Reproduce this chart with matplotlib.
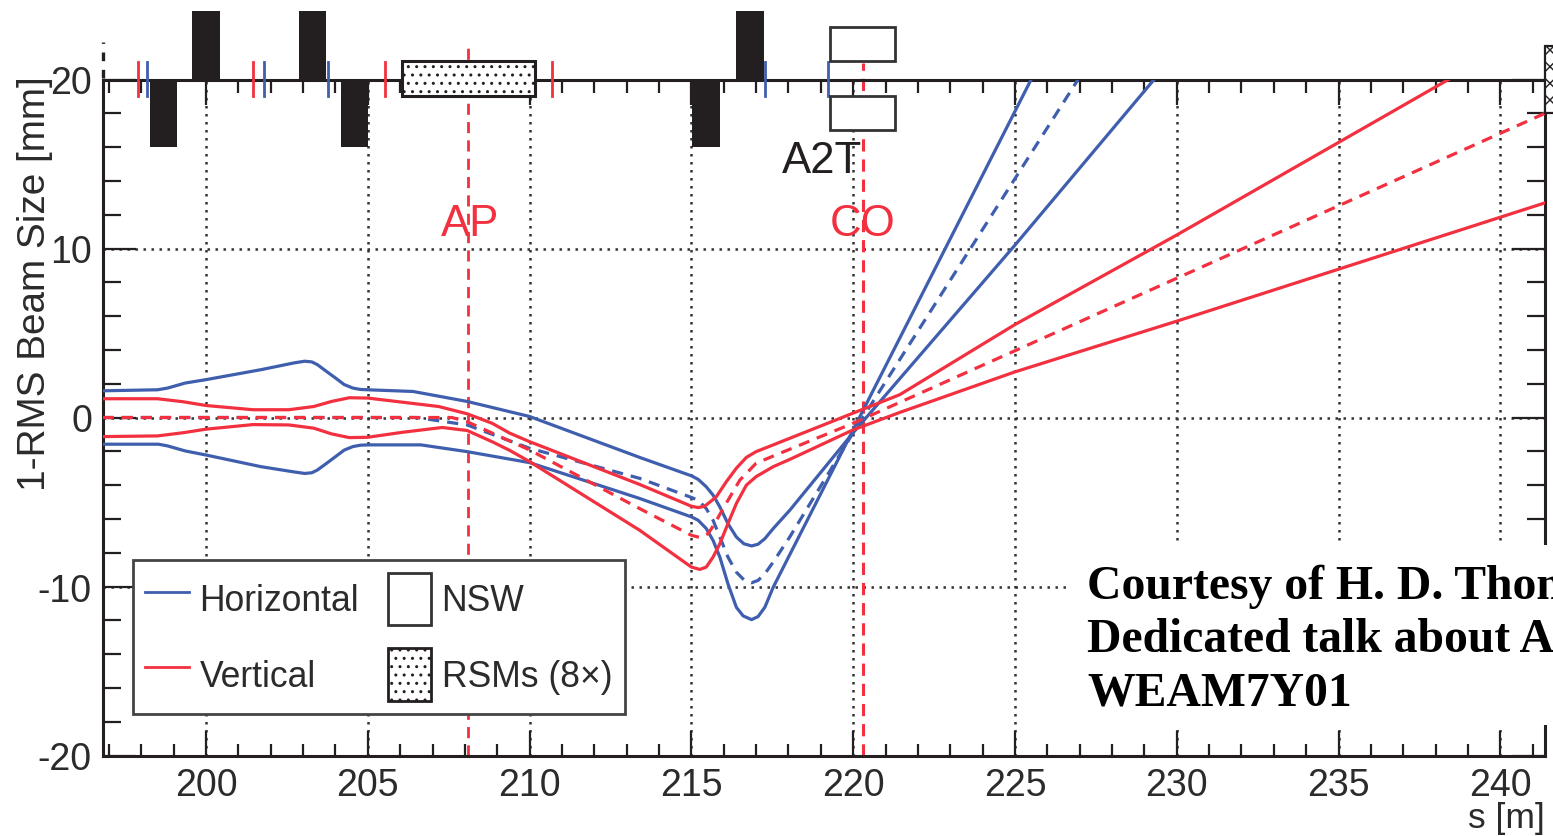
import matplotlib
matplotlib.use('Agg')
import matplotlib.pyplot as plt
from matplotlib.lines import Line2D
from matplotlib.patches import Patch, Rectangle
from matplotlib.ticker import MultipleLocator

plt.rcParams['font.family'] = ['Liberation Sans', 'DejaVu Sans']
plt.rcParams['axes.unicode_minus'] = False
plt.rcParams['hatch.linewidth'] = 1.0

BLUE = '#3f5fae'
RED = '#f2303f'
INK = '#231f20'

# beam size curves
h_up_s = [196.8, 198.5, 198.81, 199.36, 200, 201.7, 202.72, 203.05, 203.27, 203.44, 203.72, 204, 204.27, 204.54, 204.77, 205,
          206.4, 208.07, 210, 213.4, 215, 215.21, 215.46, 215.67, 215.88, 216.13, 216.39, 216.62, 216.86, 217.06, 217.27,
          217.53, 218.04, 220, 225, 229.3]
h_up_y = [1.58, 1.64, 1.74, 2.04, 2.24, 2.83, 3.23, 3.33, 3.29, 3.13, 2.73, 2.34, 1.95, 1.74, 1.66, 1.64,
          1.54, 0.95, 0.06, -2.36, -3.45, -3.66, -4.1, -4.59, -5.29, -6.28, -7.07, -7.47, -7.6, -7.5, -7.17,
          -6.57, -5.49, -0.9, 10.2, 20]
h_lo_s = [196.8, 198.53, 198.81, 199.36, 200, 201.7, 202.72, 203.05, 203.27, 203.44, 203.72, 204, 204.27, 204.54, 204.77, 205,
          206.64, 208.07, 210, 213.4, 215, 215.21, 215.46, 215.67, 215.88, 216.13, 216.39, 216.6, 216.86, 217.06, 217.27,
          217.53, 225.5]
h_lo_y = [-1.58, -1.58, -1.68, -1.98, -2.22, -2.91, -3.22, -3.31, -3.27, -3.11, -2.72, -2.32, -1.93, -1.72, -1.64, -1.62,
          -1.62, -2.02, -2.67, -4.79, -5.88, -6.08, -6.57, -7.27, -8.26, -9.84, -11.23, -11.74, -11.96, -11.78, -11.23,
          -10.04, 20]
h_mid_s = [196.8, 206.5, 208.07, 210, 213.4, 215, 215.21, 215.46, 215.67, 215.88, 216.13, 216.39, 216.62, 216.86, 217.06,
           217.27, 217.53, 218.04, 220, 226.95]
h_mid_y = [0, 0, -0.44, -1.82, -3.6, -4.73, -4.89, -5.39, -6.08, -7.07, -8.26, -9.15, -9.6, -9.78, -9.64,
           -9.25, -8.55, -7.07, -0.9, 20]

v_up_s = [196.8, 198.5, 199.3, 200, 201.45, 202.56, 203.33, 203.88, 204.43, 205, 207.19, 208.07, 208.84, 209.39, 210, 213.4,
          215, 215.21, 215.41, 215.62, 215.77, 216.08, 216.39, 216.7, 217, 217.53, 218.04, 220, 221.44, 225, 230, 238.4]
v_up_y = [1.11, 1.11, 0.93, 0.71, 0.46, 0.46, 0.65, 0.95, 1.17, 1.15, 0.65, 0.22, -0.34, -0.93, -1.43, -3.96,
          -5.25, -5.33, -5.25, -4.93, -4.69, -3.8, -3.0, -2.36, -2.02, -1.62, -1.23, 0.26, 1.35, 5.5, 10.8, 20]
v_lo_s = [196.8, 198.5, 199.3, 200, 201.45, 202.56, 203.33, 203.88, 204.43, 205, 206.09, 207.3, 208.07, 208.84, 209.39, 210,
          213.4, 215, 215.26, 215.46, 215.67, 215.88, 216.13, 216.39, 216.7, 217, 217.53, 218.04, 220, 221.44, 225, 230, 241.38]
v_lo_y = [-1.13, -1.09, -0.9, -0.69, -0.42, -0.44, -0.63, -0.97, -1.19, -1.17, -0.87, -0.59, -0.77, -1.43, -1.95, -2.61,
          -6.67, -8.85, -8.99, -8.85, -8.26, -7.47, -6.28, -5.09, -4.0, -3.5, -2.91, -2.48, -0.73, 0.3, 2.7, 5.7, 12.7]
v_mid_s = [196.8, 207.6, 208.07, 210, 213.4, 215, 215.26, 215.52, 215.72, 215.98, 216.5, 217, 217.53, 220, 225, 230, 241.38]
v_mid_y = [0, 0, -0.25, -1.92, -5.39, -6.97, -7.1, -6.87, -6.28, -5.39, -3.7, -2.71, -2.28, -0.34, 3.95, 8.24, 18]

# beamline elements (s start, s end)
quads_up = [(199.57, 200.43), (202.87, 203.71), (216.38, 217.24)]
quads_down = [(198.27, 199.1), (204.17, 205.0), (215.02, 215.88)]
rsm = (206.07, 210.17)
nsw = (219.28, 221.29)
red_marks = [197.91, 201.45, 205.52, 210.69]
blue_marks = [198.18, 201.78, 203.77, 217.27, 219.22]
ap_s = 208.1
co_s = 220.3

xticks = [200, 205, 210, 215, 220, 225, 230, 235, 240]
yticks = [-20, -10, 0, 10, 20]

fig = plt.figure(figsize=(15.53, 8.37), dpi=100)
ax = fig.add_axes([103 / 1553, 80.5 / 837, 1442 / 1553, 676 / 837])
ax.set_xlim(196.817, 241.38)
ax.set_ylim(-20, 20)

ax.set_xticks(xticks)
ax.set_yticks(yticks)
ax.xaxis.set_minor_locator(MultipleLocator(1))
ax.yaxis.set_minor_locator(MultipleLocator(2))
ax.tick_params(which='major', direction='in', top=True, right=True, length=18, width=1.6, color=INK,
               labelsize=27, labelcolor='#2b2b2b', pad=8)
ax.tick_params(axis='y', which='major', length=24)
ax.tick_params(which='minor', direction='in', top=True, right=True, length=9, width=1.6, color=INK)
ax.tick_params(axis='y', which='minor', length=13)
for sp in ax.spines.values():
    sp.set_linewidth(2.2)
    sp.set_color(INK)
ax.grid(True, which='major', color='#333333', linestyle=(0, (1, 2.2)), linewidth=1.8)
ax.set_axisbelow(True)

ax.set_ylabel('1-RMS Beam Size [mm]', fontsize=27.9, color='#2b2b2b')
ax.yaxis.set_label_coords(-0.0345, 0.70)
ax.text(0.9995, -0.0917, 's [m]', transform=ax.transAxes, ha='right', va='center', fontsize=25.5, color='#2b2b2b')

# AP and CO planes
ax.plot([ap_s, ap_s], [-20, 22.3], color=RED, ls=(0, (4, 2.6)), lw=2, clip_on=False, zorder=2)
ax.plot([co_s, co_s], [-20, 21], color=RED, ls=(0, (4, 2.6)), lw=2.2, clip_on=False, zorder=2)

ax.plot(h_up_s, h_up_y, color=BLUE, lw=2.3, zorder=3)
ax.plot(h_lo_s, h_lo_y, color=BLUE, lw=2.3, zorder=3)
ax.plot(h_mid_s, h_mid_y, color=BLUE, lw=2.3, ls=(0, (3.5, 2.5)), zorder=3)
ax.plot(v_mid_s, v_mid_y, color=RED, lw=2.3, ls=(0, (3.5, 2.5)), zorder=3)
ax.plot(v_up_s, v_up_y, color=RED, lw=2.3, zorder=3)
ax.plot(v_lo_s, v_lo_y, color=RED, lw=2.3, zorder=3)

# elements over the top axis
for a, b in quads_up:
    ax.add_patch(Rectangle((a, 20), b - a, 4.08, fc=INK, ec='none', clip_on=False, zorder=4))
for a, b in quads_down:
    ax.add_patch(Rectangle((a, 16), b - a, 4, fc=INK, ec='none', clip_on=False, zorder=4))
for s in red_marks:
    ax.plot([s, s], [19.05, 21.05], color=RED, lw=2, clip_on=False, zorder=4)
for s in blue_marks:
    ax.plot([s, s], [19.05, 21.05], color=BLUE, lw=2, clip_on=False, zorder=4)
ax.add_patch(Rectangle((rsm[0], 19.05), rsm[1] - rsm[0], 2.02, fc='white', ec=INK, lw=2.2, hatch='..',
                       clip_on=False, zorder=4))
ax.add_patch(Rectangle((nsw[0], 21.07), nsw[1] - nsw[0], 2.01, fc='white', ec='#333333', lw=2, clip_on=False, zorder=4))
ax.add_patch(Rectangle((nsw[0], 17.04), nsw[1] - nsw[0], 2.01, fc='white', ec='#333333', lw=2, clip_on=False, zorder=4))
ax.add_patch(Rectangle((241.38, 18.0), 0.4, 4.0, fc='white', ec=INK, lw=1.6, hatch='xx', clip_on=False, zorder=4))
ax.plot([196.817, 196.817], [20.1, 22.2], color=INK, lw=2.4, ls=(0, (2.6, 2.6)), clip_on=False, zorder=4)

ax.text(219.03, 15.2, 'A2T', fontsize=31.5, color=INK, ha='center', va='center', zorder=5)
ax.text(208.15, 11.45, 'AP', fontsize=31.5, color=RED, ha='center', va='center', zorder=5)
ax.text(220.3, 11.45, 'CO', fontsize=31.5, color=RED, ha='center', va='center', zorder=5)

# white patch with the talk note on top of the plot
fig.patches.append(Rectangle((1070 / 1553, 1 - 726 / 837), 483 / 1553, 180 / 837, transform=fig.transFigure,
                             fc='white', ec='none', zorder=6))
note = ['Courtesy of H. D. Thom', 'Dedicated talk about A2T', 'WEAM7Y01']
for i, line in enumerate(note):
    fig.text(1087 / 1553, 1 - (599 + 53.3 * i) / 837, line, family='Liberation Serif', weight='bold', fontsize=34.3,
             color='black', va='baseline', ha='left', zorder=7)

handles = [Line2D([], [], color=BLUE, lw=2), Line2D([], [], color=RED, lw=2),
           Patch(fc='white', ec='#333333', lw=2), Patch(fc='white', ec=INK, lw=2, hatch='..')]
labels = ['Horizontal', 'Vertical', 'NSW', 'RSMs (8×)']
leg = ax.legend(handles, labels, ncols=2, loc='lower left', bbox_to_anchor=((133 - 103) / 1442, (756 - 714) / 676),
                fontsize=25.6, fancybox=False, framealpha=1, edgecolor='#444444', labelcolor='#2b2b2b', borderpad=0.35,
                handlelength=1.22, handleheight=1.9, handletextpad=0.3, columnspacing=0.8, labelspacing=0.65,
                borderaxespad=0)
leg.get_frame().set_linewidth(2)

fig.savefig('out.png', dpi=100)
